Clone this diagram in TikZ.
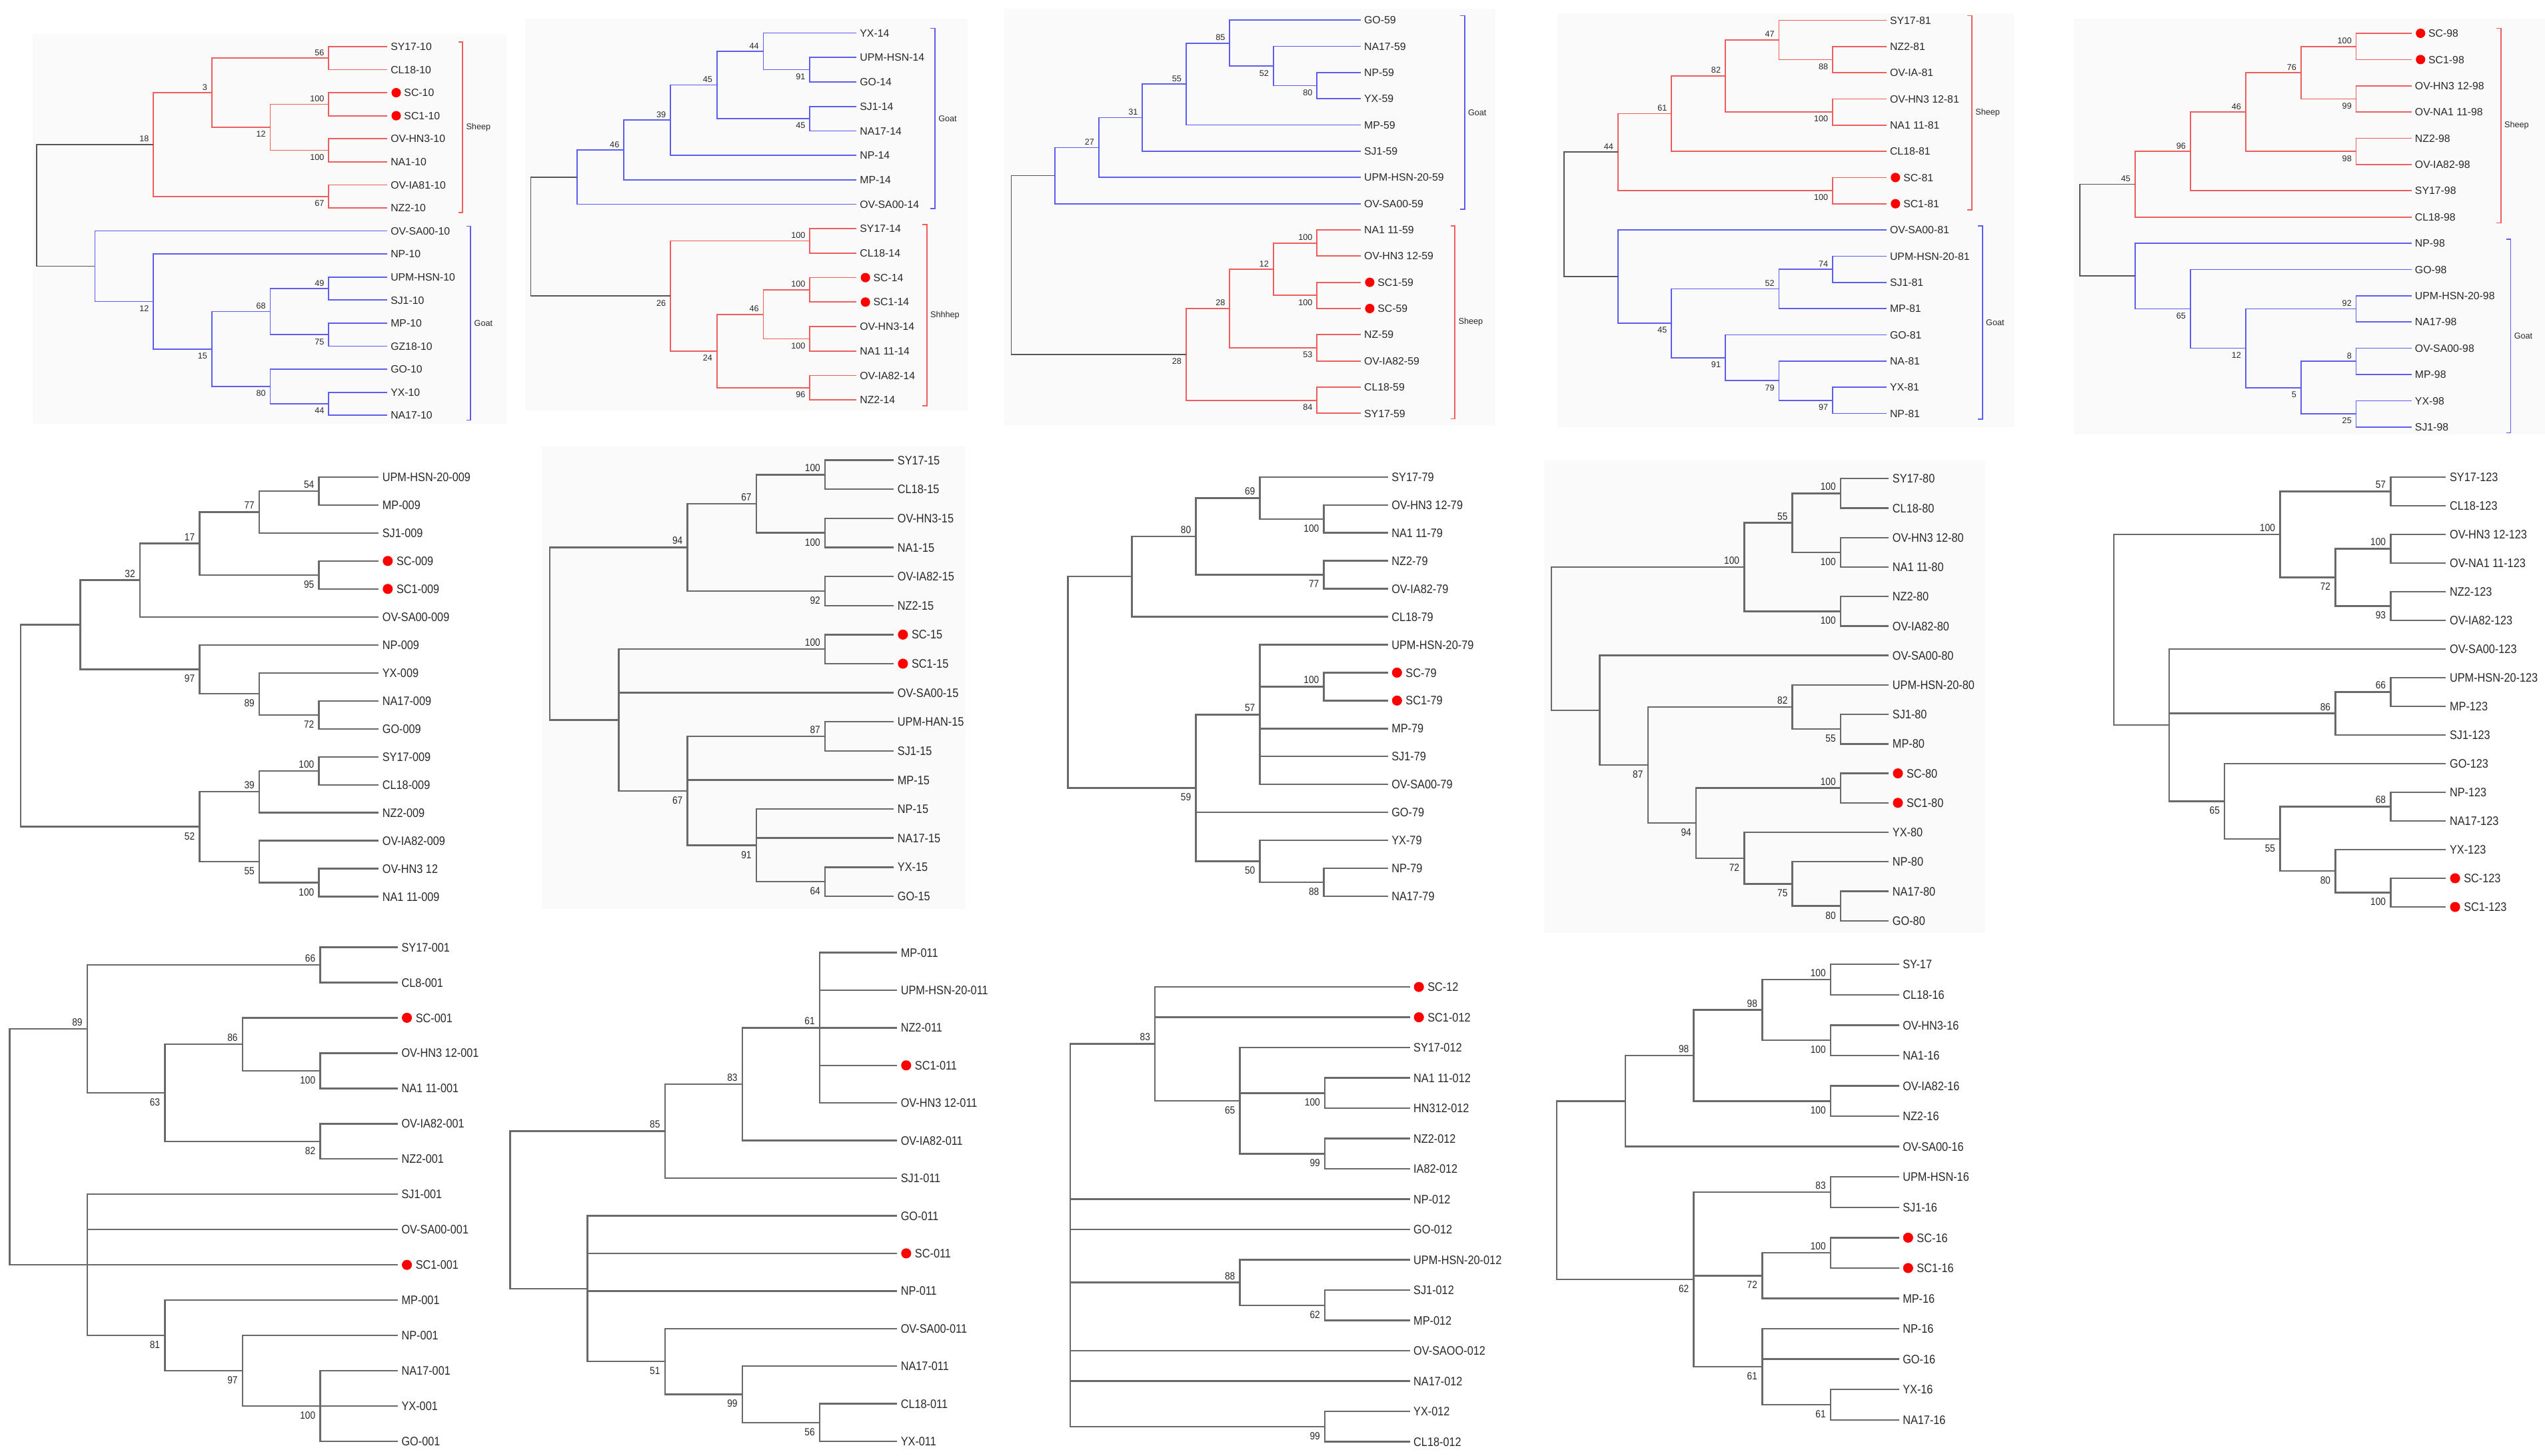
\documentclass[tikz,border=0pt]{standalone}
\usepackage{fontspec}
\setmainfont{Liberation Sans}
\newfontfamily\cnd[FakeStretch=0.88]{Liberation Sans}
\definecolor{cred}{RGB}{238,92,92}
\definecolor{cblue}{RGB}{92,92,238}
\definecolor{croot}{RGB}{85,85,85}
\definecolor{cgray}{RGB}{105,105,105}
\definecolor{ctext}{RGB}{40,40,40}
\tikzset{
  redl/.style={draw=cred, line width=0.7pt},
  bluel/.style={draw=cblue, line width=0.7pt},
  rootl/.style={draw=croot, line width=0.7pt},
  grayl/.style={draw=cgray, line width=1pt},
  cur/.style={grayl},
  sdot/.style={circle, fill=red, draw=none, inner sep=0pt, minimum size=5.8pt},
  clt/.style={font=\fontsize{5.2}{6}\selectfont, inner sep=0pt, anchor=west, text=ctext},
  panel/.style={fill=black!2, draw=none},
  lt/.style={font=\fontsize{6.5}{7}\selectfont, inner sep=0pt, anchor=base west, text=ctext},
  bs/.style={font=\fontsize{5.2}{6}\selectfont, inner sep=0pt, text=ctext}
}
\newcommand\SetTree[4]{\def\qLx{#1}\def\qHx{#2}\def\qYo{#3}\def\qDy{#4}}
\newcommand\Leaf[3]{%
  \pgfmathsetmacro\qTy{\qYo+(#2-1)*\qDy}%
  \expandafter\xdef\csname Y@#1\endcsname{\qTy}%
  \coordinate (#1) at (\qLx,\qTy);
  \node[lt] (#1t) at (\qLx+\qLgap,\qTy+\qLbase) {#3};}
\newcommand\LeafD[3]{%
  \pgfmathsetmacro\qTy{\qYo+(#2-1)*\qDy}%
  \expandafter\xdef\csname Y@#1\endcsname{\qTy}%
  \coordinate (#1) at (\qLx,\qTy);
  \node[sdot] (#1d) at (\qLx+\qLdot,\qTy) {};
  \node[lt] (#1t) at (\qLx+\qLdtx,\qTy+\qLbase) {#3};}
\newcommand\Inode[3]{%
  \gdef\qFc{}%
  \foreach \qCh in {#3}{\ifx\qFc\empty\xdef\qFc{\qCh}\fi\xdef\qLc{\qCh}}%
  \pgfmathsetmacro\qNy{(\csname Y@\qFc\endcsname+\csname Y@\qLc\endcsname)/2}%
  \expandafter\xdef\csname Y@#1\endcsname{\qNy}%
  \pgfmathsetmacro\qNx{\qLx-#2*\qHx}%
  \coordinate (#1) at (\qNx,\qNy);
  \foreach \qCh in {#3}{\draw[cur] (#1) |- (\qCh);}}
\newcommand\InodeA[4]{\Inode{#1}{#2}{#3}\node[bs,anchor=south east] (#1b) at (\qNx-\qBx,\qNy-\qBa) {#4};}
\newcommand\InodeB[4]{\Inode{#1}{#2}{#3}\node[bs,anchor=north east] (#1b) at (\qNx-\qBx,\qNy+\qBb) {#4};}
\newcommand\Clade[6]{%
  \draw[#2] (#3-2.7,#4) -- (#3,#4) -- (#3,#5) -- (#3-2.7,#5);
  \node[clt] (#1) at (#3+2,{(#4+#5)/2}) {#6};}
\begin{document}
\begin{tikzpicture}[x=1pt,y=-1pt]
\fill[white] (0,0) rectangle (1568,897);
\useasboundingbox (0,0) rectangle (1568,897);
% panels
\fill[panel] (20,20.8) rectangle (312,261);
\fill[panel] (323.4,11.6) rectangle (596.3,253);
\fill[panel] (618.8,5.4) rectangle (921.2,261.8);
\fill[panel] (959.6,8.3) rectangle (1241.3,263);
\fill[panel] (1277.6,11.6) rectangle (1568,267.7);
\fill[panel] (334,275) rectangle (595,560);
\fill[panel] (951.5,283.6) rectangle (1223,575);
% ===== Row 1 settings
\def\qLgap{2}\def\qLdot{5.6}\def\qLdtx{10.3}\def\qLbase{2.33}\def\qBx{2.6}\def\qBa{1.4}\def\qBb{2.3}
% ---- Tree A
\SetTree{238.5}{36.0}{28.7}{14.2}
\Leaf{A1}{1}{SY17-10}\Leaf{A2}{2}{CL18-10}\LeafD{A3}{3}{SC-10}\LeafD{A4}{4}{SC1-10}
\Leaf{A5}{5}{OV-HN3-10}\Leaf{A6}{6}{NA1-10}\Leaf{A7}{7}{OV-IA81-10}\Leaf{A8}{8}{NZ2-10}
\Leaf{A9}{9}{OV-SA00-10}\Leaf{A10}{10}{NP-10}\Leaf{A11}{11}{UPM-HSN-10}\Leaf{A12}{12}{SJ1-10}
\Leaf{A13}{13}{MP-10}\Leaf{A14}{14}{GZ18-10}\Leaf{A15}{15}{GO-10}\Leaf{A16}{16}{YX-10}\Leaf{A17}{17}{NA17-10}
\tikzset{cur/.style={redl}}
\InodeA{Aa}{1}{A1,A2}{56}
\InodeA{Ab}{1}{A3,A4}{100}
\InodeB{Ac}{1}{A5,A6}{100}
\InodeB{Ad}{2}{Ab,Ac}{12}
\InodeA{Ae}{3}{Aa,Ad}{3}
\InodeB{Af}{1}{A7,A8}{67}
\InodeA{Ag}{4}{Ae,Af}{18}
\tikzset{cur/.style={bluel}}
\InodeA{Ah}{1}{A11,A12}{49}
\InodeB{Ai}{1}{A13,A14}{75}
\InodeA{Aj}{2}{Ah,Ai}{68}
\InodeB{Ak}{1}{A16,A17}{44}
\InodeB{Al}{2}{A15,Ak}{80}
\InodeB{Am}{3}{Aj,Al}{15}
\InodeB{An}{4}{A10,Am}{12}
\Inode{Ao}{5}{A9,An}
\tikzset{cur/.style={rootl}}
\Inode{Ar}{6}{Ag,Ao}
\Clade{Ash}{redl}{285.0}{25.9}{131.0}{Sheep}
\Clade{Ago}{bluel}{290.0}{139.4}{258.9}{Goat}
% ---- Tree B
\SetTree{527.6}{28.65}{20.35}{15.07}
\Leaf{B1}{1}{YX-14}\Leaf{B2}{2}{UPM-HSN-14}\Leaf{B3}{3}{GO-14}\Leaf{B4}{4}{SJ1-14}
\Leaf{B5}{5}{NA17-14}\Leaf{B6}{6}{NP-14}\Leaf{B7}{7}{MP-14}\Leaf{B8}{8}{OV-SA00-14}
\Leaf{B9}{9}{SY17-14}\Leaf{B10}{10}{CL18-14}\LeafD{B11}{11}{SC-14}\LeafD{B12}{12}{SC1-14}
\Leaf{B13}{13}{OV-HN3-14}\Leaf{B14}{14}{NA1 11-14}\Leaf{B15}{15}{OV-IA82-14}\Leaf{B16}{16}{NZ2-14}
\tikzset{cur/.style={bluel}}
\InodeB{Ba}{1}{B2,B3}{91}
\InodeA{Bb}{2}{B1,Ba}{44}
\InodeB{Bc}{1}{B4,B5}{45}
\InodeA{Bd}{3}{Bb,Bc}{45}
\InodeA{Be}{4}{Bd,B6}{39}
\InodeA{Bf}{5}{Be,B7}{46}
\Inode{Bg}{6}{Bf,B8}
\tikzset{cur/.style={redl}}
\InodeA{Bh}{1}{B9,B10}{100}
\InodeA{Bi}{1}{B11,B12}{100}
\InodeB{Bj}{1}{B13,B14}{100}
\InodeA{Bk}{2}{Bi,Bj}{46}
\InodeB{Bl}{1}{B15,B16}{96}
\InodeB{Bm}{3}{Bk,Bl}{24}
\InodeB{Bn}{4}{Bh,Bm}{26}
\tikzset{cur/.style={rootl}}
\Inode{Br}{7}{Bg,Bn}
\Clade{Bgo}{bluel}{576.0}{17.5}{128.6}{Goat}
\Clade{Bsh}{redl}{571.0}{138.5}{250.0}{Shhhep}
% ---- Tree C
\SetTree{838.3}{26.9}{12.44}{16.15}
\Leaf{C1}{1}{GO-59}\Leaf{C2}{2}{NA17-59}\Leaf{C3}{3}{NP-59}\Leaf{C4}{4}{YX-59}
\Leaf{C5}{5}{MP-59}\Leaf{C6}{6}{SJ1-59}\Leaf{C7}{7}{UPM-HSN-20-59}\Leaf{C8}{8}{OV-SA00-59}
\Leaf{C9}{9}{NA1 11-59}\Leaf{C10}{10}{OV-HN3 12-59}\LeafD{C11}{11}{SC1-59}\LeafD{C12}{12}{SC-59}
\Leaf{C13}{13}{NZ-59}\Leaf{C14}{14}{OV-IA82-59}\Leaf{C15}{15}{CL18-59}\Leaf{C16}{16}{SY17-59}
\tikzset{cur/.style={bluel}}
\InodeB{Ca}{1}{C3,C4}{80}
\InodeB{Cb}{2}{C2,Ca}{52}
\InodeA{Cc}{3}{C1,Cb}{85}
\InodeA{Cd}{4}{Cc,C5}{55}
\InodeA{Ce}{5}{Cd,C6}{31}
\InodeA{Cf}{6}{Ce,C7}{27}
\Inode{Cg}{7}{Cf,C8}
\tikzset{cur/.style={redl}}
\InodeA{Ch}{1}{C9,C10}{100}
\InodeB{Ci}{1}{C11,C12}{100}
\InodeA{Cj}{2}{Ch,Ci}{12}
\InodeB{Ck}{1}{C13,C14}{53}
\InodeA{Cl}{3}{Cj,Ck}{28}
\InodeB{Cm}{1}{C15,C16}{84}
\InodeB{Cn}{4}{Cl,Cm}{28}
\tikzset{cur/.style={rootl}}
\Inode{Cr}{8}{Cg,Cn}
\Clade{Cgo}{bluel}{902.3}{9.6}{128.9}{Goat}
\Clade{Csh}{redl}{896.4}{139.1}{258.1}{Sheep}
% ---- Tree D
\SetTree{1162.2}{33.09}{12.47}{16.15}
\Leaf{D1}{1}{SY17-81}\Leaf{D2}{2}{NZ2-81}\Leaf{D3}{3}{OV-IA-81}\Leaf{D4}{4}{OV-HN3 12-81}
\Leaf{D5}{5}{NA1 11-81}\Leaf{D6}{6}{CL18-81}\LeafD{D7}{7}{SC-81}\LeafD{D8}{8}{SC1-81}
\Leaf{D9}{9}{OV-SA00-81}\Leaf{D10}{10}{UPM-HSN-20-81}\Leaf{D11}{11}{SJ1-81}\Leaf{D12}{12}{MP-81}
\Leaf{D13}{13}{GO-81}\Leaf{D14}{14}{NA-81}\Leaf{D15}{15}{YX-81}\Leaf{D16}{16}{NP-81}
\tikzset{cur/.style={redl}}
\InodeB{Da}{1}{D2,D3}{88}
\InodeA{Db}{2}{D1,Da}{47}
\InodeB{Dc}{1}{D4,D5}{100}
\InodeA{Dd}{3}{Db,Dc}{82}
\InodeA{De}{4}{Dd,D6}{61}
\InodeB{Df}{1}{D7,D8}{100}
\InodeA{Dg}{5}{De,Df}{44}
\tikzset{cur/.style={bluel}}
\InodeA{Dh}{1}{D10,D11}{74}
\InodeA{Di}{2}{Dh,D12}{52}
\InodeB{Dj}{1}{D15,D16}{97}
\InodeB{Dk}{2}{D14,Dj}{79}
\InodeB{Dl}{3}{D13,Dk}{91}
\InodeB{Dm}{4}{Di,Dl}{45}
\Inode{Dn}{5}{D9,Dm}
\tikzset{cur/.style={rootl}}
\Inode{Dr}{6}{Dg,Dn}
\Clade{Dsh}{redl}{1214.9}{9.6}{129.3}{Sheep}
\Clade{Dgo}{bluel}{1221.4}{139.3}{258.3}{Goat}
% ---- Tree E
\SetTree{1485.7}{34.06}{20.52}{16.17}
\LeafD{E1}{1}{SC-98}\LeafD{E2}{2}{SC1-98}\Leaf{E3}{3}{OV-HN3 12-98}\Leaf{E4}{4}{OV-NA1 11-98}
\Leaf{E5}{5}{NZ2-98}\Leaf{E6}{6}{OV-IA82-98}\Leaf{E7}{7}{SY17-98}\Leaf{E8}{8}{CL18-98}
\Leaf{E9}{9}{NP-98}\Leaf{E10}{10}{GO-98}\Leaf{E11}{11}{UPM-HSN-20-98}\Leaf{E12}{12}{NA17-98}
\Leaf{E13}{13}{OV-SA00-98}\Leaf{E14}{14}{MP-98}\Leaf{E15}{15}{YX-98}\Leaf{E16}{16}{SJ1-98}
\tikzset{cur/.style={redl}}
\InodeA{Ea}{1}{E1,E2}{100}
\InodeB{Eb}{1}{E3,E4}{99}
\InodeA{Ec}{2}{Ea,Eb}{76}
\InodeB{Ed}{1}{E5,E6}{98}
\InodeA{Ee}{3}{Ec,Ed}{46}
\InodeA{Ef}{4}{Ee,E7}{96}
\InodeA{Eg}{5}{Ef,E8}{45}
\tikzset{cur/.style={bluel}}
\InodeA{Eh}{1}{E11,E12}{92}
\InodeA{Ei}{1}{E13,E14}{8}
\InodeB{Ej}{1}{E15,E16}{25}
\InodeB{Ek}{2}{Ei,Ej}{5}
\InodeB{El}{3}{Eh,Ek}{12}
\InodeB{Em}{4}{E10,El}{65}
\Inode{En}{5}{E9,Em}
\tikzset{cur/.style={rootl}}
\Inode{Er}{6}{Eg,En}
\Clade{Esh}{redl}{1540.8}{17.5}{137.3}{Sheep}
\Clade{Ego}{bluel}{1546.8}{147.4}{266.7}{Goat}
% ===== Rows 2-3 settings
\tikzset{cur/.style={grayl},
  lt/.style={font=\cnd\fontsize{7.6}{8}\selectfont, inner sep=0pt, anchor=base west, text=ctext},
  bs/.style={font=\cnd\fontsize{6.4}{7}\selectfont, inner sep=0pt, text=ctext},
  sdot/.style={circle, fill=red, draw=none, inner sep=0pt, minimum size=6.2pt}}
\def\qLgap{2.1}\def\qLdot{5.6}\def\qLdtx{10.8}\def\qLbase{2.72}\def\qBx{2.8}\def\qBa{1.6}\def\qBb{3.3}
% ---- Tree F
\SetTree{233.3}{36.77}{293.9}{17.24}
\Leaf{F1}{1}{UPM-HSN-20-009}\Leaf{F2}{2}{MP-009}\Leaf{F3}{3}{SJ1-009}\LeafD{F4}{4}{SC-009}
\LeafD{F5}{5}{SC1-009}\Leaf{F6}{6}{OV-SA00-009}\Leaf{F7}{7}{NP-009}\Leaf{F8}{8}{YX-009}
\Leaf{F9}{9}{NA17-009}\Leaf{F10}{10}{GO-009}\Leaf{F11}{11}{SY17-009}\Leaf{F12}{12}{CL18-009}
\Leaf{F13}{13}{NZ2-009}\Leaf{F14}{14}{OV-IA82-009}\Leaf{F15}{15}{OV-HN3 12}\Leaf{F16}{16}{NA1 11-009}
\InodeA{Fa}{1}{F1,F2}{54}
\InodeA{Fb}{2}{Fa,F3}{77}
\InodeB{Fc}{1}{F4,F5}{95}
\InodeA{Fd}{3}{Fb,Fc}{17}
\InodeA{Fe}{4}{Fd,F6}{32}
\InodeB{Ff}{1}{F9,F10}{72}
\InodeB{Fg}{2}{F8,Ff}{89}
\InodeB{Fh}{3}{F7,Fg}{97}
\Inode{Fi}{5}{Fe,Fh}
\InodeA{Fj}{1}{F11,F12}{100}
\InodeA{Fk}{2}{Fj,F13}{39}
\InodeB{Fl}{1}{F15,F16}{100}
\InodeB{Fm}{2}{F14,Fl}{55}
\InodeB{Fn}{3}{Fk,Fm}{52}
\Inode{Fr}{6}{Fi,Fn}
% ---- Tree G
\SetTree{550.7}{42.38}{283.55}{17.91}
\Leaf{G1}{1}{SY17-15}\Leaf{G2}{2}{CL18-15}\Leaf{G3}{3}{OV-HN3-15}\Leaf{G4}{4}{NA1-15}
\Leaf{G5}{5}{OV-IA82-15}\Leaf{G6}{6}{NZ2-15}\LeafD{G7}{7}{SC-15}\LeafD{G8}{8}{SC1-15}
\Leaf{G9}{9}{OV-SA00-15}\Leaf{G10}{10}{UPM-HAN-15}\Leaf{G11}{11}{SJ1-15}\Leaf{G12}{12}{MP-15}
\Leaf{G13}{13}{NP-15}\Leaf{G14}{14}{NA17-15}\Leaf{G15}{15}{YX-15}\Leaf{G16}{16}{GO-15}
\InodeA{Ga}{1}{G1,G2}{100}
\InodeB{Gb}{1}{G3,G4}{100}
\InodeA{Gc}{2}{Ga,Gb}{67}
\InodeB{Gd}{1}{G5,G6}{92}
\InodeA{Ge}{3}{Gc,Gd}{94}
\InodeA{Gf}{1}{G7,G8}{100}
\InodeA{Gg}{1}{G10,G11}{87}
\InodeB{Gh}{1}{G15,G16}{64}
\InodeB{Gi}{2}{G13,G14,Gh}{91}
\InodeB{Gj}{3}{Gg,G12,Gi}{67}
\Inode{Gk}{4}{Gf,G9,Gj}
\Inode{Gr}{5}{Ge,Gk}
% ---- Tree H
\SetTree{855.1}{39.44}{293.9}{17.22}
\Leaf{H1}{1}{SY17-79}\Leaf{H2}{2}{OV-HN3 12-79}\Leaf{H3}{3}{NA1 11-79}\Leaf{H4}{4}{NZ2-79}
\Leaf{H5}{5}{OV-IA82-79}\Leaf{H6}{6}{CL18-79}\Leaf{H7}{7}{UPM-HSN-20-79}\LeafD{H8}{8}{SC-79}
\LeafD{H9}{9}{SC1-79}\Leaf{H10}{10}{MP-79}\Leaf{H11}{11}{SJ1-79}\Leaf{H12}{12}{OV-SA00-79}
\Leaf{H13}{13}{GO-79}\Leaf{H14}{14}{YX-79}\Leaf{H15}{15}{NP-79}\Leaf{H16}{16}{NA17-79}
\InodeB{Ha}{1}{H2,H3}{100}
\InodeA{Hb}{2}{H1,Ha}{69}
\InodeB{Hc}{1}{H4,H5}{77}
\InodeA{Hd}{3}{Hb,Hc}{80}
\Inode{He}{4}{Hd,H6}
\InodeA{Hf}{1}{H8,H9}{100}
\InodeA{Hg}{2}{H7,Hf,H10,H11,H12}{57}
\InodeB{Hh}{1}{H15,H16}{88}
\InodeB{Hi}{2}{H14,Hh}{50}
\InodeB{Hj}{3}{Hg,H13,Hi}{59}
\Inode{Hr}{5}{He,Hj}
% ---- Tree I
\SetTree{1163.7}{29.69}{294.9}{18.16}
\Leaf{I1}{1}{SY17-80}\Leaf{I2}{2}{CL18-80}\Leaf{I3}{3}{OV-HN3 12-80}\Leaf{I4}{4}{NA1 11-80}
\Leaf{I5}{5}{NZ2-80}\Leaf{I6}{6}{OV-IA82-80}\Leaf{I7}{7}{OV-SA00-80}\Leaf{I8}{8}{UPM-HSN-20-80}
\Leaf{I9}{9}{SJ1-80}\Leaf{I10}{10}{MP-80}\LeafD{I11}{11}{SC-80}\LeafD{I12}{12}{SC1-80}
\Leaf{I13}{13}{YX-80}\Leaf{I14}{14}{NP-80}\Leaf{I15}{15}{NA17-80}\Leaf{I16}{16}{GO-80}
\InodeA{Ia}{1}{I1,I2}{100}
\InodeB{Ib}{1}{I3,I4}{100}
\InodeA{Ic}{2}{Ia,Ib}{55}
\InodeB{Id}{1}{I5,I6}{100}
\InodeA{Ie}{3}{Ic,Id}{100}
\InodeB{If}{1}{I9,I10}{55}
\InodeA{Ig}{2}{I8,If}{82}
\InodeA{Ih}{1}{I11,I12}{100}
\InodeB{Ii}{1}{I15,I16}{80}
\InodeB{Ij}{2}{I14,Ii}{75}
\InodeB{Ik}{3}{I13,Ij}{72}
\InodeB{Il}{4}{Ih,Ik}{94}
\InodeB{Im}{5}{Ig,Il}{87}
\Inode{In}{6}{I7,Im}
\Inode{Ir}{7}{Ie,In}
% ---- Tree J
\SetTree{1507.0}{34.1}{293.9}{17.66}
\Leaf{J1}{1}{SY17-123}\Leaf{J2}{2}{CL18-123}\Leaf{J3}{3}{OV-HN3 12-123}\Leaf{J4}{4}{OV-NA1 11-123}
\Leaf{J5}{5}{NZ2-123}\Leaf{J6}{6}{OV-IA82-123}\Leaf{J7}{7}{OV-SA00-123}\Leaf{J8}{8}{UPM-HSN-20-123}
\Leaf{J9}{9}{MP-123}\Leaf{J10}{10}{SJ1-123}\Leaf{J11}{11}{GO-123}\Leaf{J12}{12}{NP-123}
\Leaf{J13}{13}{NA17-123}\Leaf{J14}{14}{YX-123}\LeafD{J15}{15}{SC-123}\LeafD{J16}{16}{SC1-123}
\InodeA{Ja}{1}{J1,J2}{57}
\InodeA{Jb}{1}{J3,J4}{100}
\InodeB{Jc}{1}{J5,J6}{93}
\InodeB{Jd}{2}{Jb,Jc}{72}
\InodeA{Je}{3}{Ja,Jd}{100}
\InodeA{Jf}{1}{J8,J9}{66}
\InodeA{Jg}{2}{Jf,J10}{86}
\InodeA{Jh}{1}{J12,J13}{68}
\InodeB{Ji}{1}{J15,J16}{100}
\InodeB{Jj}{2}{J14,Ji}{80}
\InodeB{Jk}{3}{Jh,Jj}{55}
\InodeB{Jl}{4}{J11,Jk}{65}
\Inode{Jm}{5}{J7,Jg,Jl}
\Inode{Jr}{6}{Je,Jm}
% ---- Tree K
\SetTree{245.1}{47.84}{583.6}{21.75}
\Leaf{K1}{1}{SY17-001}\Leaf{K2}{2}{CL8-001}\LeafD{K3}{3}{SC-001}\Leaf{K4}{4}{OV-HN3 12-001}
\Leaf{K5}{5}{NA1 11-001}\Leaf{K6}{6}{OV-IA82-001}\Leaf{K7}{7}{NZ2-001}\Leaf{K8}{8}{SJ1-001}
\Leaf{K9}{9}{OV-SA00-001}\LeafD{K10}{10}{SC1-001}\Leaf{K11}{11}{MP-001}\Leaf{K12}{12}{NP-001}
\Leaf{K13}{13}{NA17-001}\Leaf{K14}{14}{YX-001}\Leaf{K15}{15}{GO-001}
\InodeA{Ka}{1}{K1,K2}{66}
\InodeB{Kb}{1}{K4,K5}{100}
\InodeA{Kc}{2}{K3,Kb}{86}
\InodeB{Kd}{1}{K6,K7}{82}
\InodeB{Ke}{3}{Kc,Kd}{63}
\InodeA{Kf}{4}{Ka,Ke}{89}
\InodeB{Kj}{1}{K13,K14,K15}{100}
\InodeB{Ki}{2}{K12,Kj}{97}
\InodeB{Kh}{3}{K11,Ki}{81}
\Inode{Kg}{4}{K8,K9,K10,Kh}
\Inode{Kr}{5}{Kf,Kg}
% ---- Tree L
\SetTree{552.7}{47.68}{586.9}{23.17}
\Leaf{L1}{1}{MP-011}\Leaf{L2}{2}{UPM-HSN-20-011}\Leaf{L3}{3}{NZ2-011}\LeafD{L4}{4}{SC1-011}
\Leaf{L5}{5}{OV-HN3 12-011}\Leaf{L6}{6}{OV-IA82-011}\Leaf{L7}{7}{SJ1-011}\Leaf{L8}{8}{GO-011}
\LeafD{L9}{9}{SC-011}\Leaf{L10}{10}{NP-011}\Leaf{L11}{11}{OV-SA00-011}\Leaf{L12}{12}{NA17-011}
\Leaf{L13}{13}{CL18-011}\Leaf{L14}{14}{YX-011}
\InodeA{La}{1}{L1,L2,L3,L4,L5}{61}
\InodeA{Lb}{2}{La,L6}{83}
\InodeA{Lc}{3}{Lb,L7}{85}
\InodeB{Ld}{1}{L13,L14}{56}
\InodeB{Le}{2}{L12,Ld}{99}
\InodeB{Lf}{3}{L11,Le}{51}
\Inode{Lg}{4}{L8,L9,L10,Lf}
\Inode{Lr}{5}{Lc,Lg}
% ---- Tree M
\SetTree{868.6}{52.33}{608.1}{18.68}
\LeafD{M1}{1}{SC-12}\LeafD{M2}{2}{SC1-012}\Leaf{M3}{3}{SY17-012}\Leaf{M4}{4}{NA1 11-012}
\Leaf{M5}{5}{HN312-012}\Leaf{M6}{6}{NZ2-012}\Leaf{M7}{7}{IA82-012}\Leaf{M8}{8}{NP-012}
\Leaf{M9}{9}{GO-012}\Leaf{M10}{10}{UPM-HSN-20-012}\Leaf{M11}{11}{SJ1-012}\Leaf{M12}{12}{MP-012}
\Leaf{M13}{13}{OV-SAOO-012}\Leaf{M14}{14}{NA17-012}\Leaf{M15}{15}{YX-012}\Leaf{M16}{16}{CL18-012}
\InodeB{Ma}{1}{M4,M5}{100}
\InodeB{Mb}{1}{M6,M7}{99}
\InodeB{Mc}{2}{M3,Ma,Mb}{65}
\InodeA{Md}{3}{M1,M2,Mc}{83}
\InodeB{Me}{1}{M11,M12}{62}
\InodeA{Mf}{2}{M10,Me}{88}
\InodeB{Mg}{1}{M15,M16}{99}
\Inode{Mr}{4}{Md,M8,M9,Mf,M13,M14,Mg}
% ---- Tree N
\SetTree{1170.0}{42.16}{594.2}{18.71}
\Leaf{N1}{1}{SY-17}\Leaf{N2}{2}{CL18-16}\Leaf{N3}{3}{OV-HN3-16}\Leaf{N4}{4}{NA1-16}
\Leaf{N5}{5}{OV-IA82-16}\Leaf{N6}{6}{NZ2-16}\Leaf{N7}{7}{OV-SA00-16}\Leaf{N8}{8}{UPM-HSN-16}
\Leaf{N9}{9}{SJ1-16}\LeafD{N10}{10}{SC-16}\LeafD{N11}{11}{SC1-16}\Leaf{N12}{12}{MP-16}
\Leaf{N13}{13}{NP-16}\Leaf{N14}{14}{GO-16}\Leaf{N15}{15}{YX-16}\Leaf{N16}{16}{NA17-16}
\InodeA{Na}{1}{N1,N2}{100}
\InodeB{Nb}{1}{N3,N4}{100}
\InodeA{Nc}{2}{Na,Nb}{98}
\InodeB{Nd}{1}{N5,N6}{100}
\InodeA{Ne}{3}{Nc,Nd}{98}
\Inode{Nf}{4}{Ne,N7}
\InodeA{Ng}{1}{N8,N9}{83}
\InodeA{Nh}{1}{N10,N11}{100}
\InodeB{Ni}{2}{Nh,N12}{72}
\InodeB{Nj}{1}{N15,N16}{61}
\InodeB{Nk}{2}{N13,N14,Nj}{61}
\InodeB{Nl}{3}{Ng,Ni,Nk}{62}
\Inode{Nr}{5}{Nf,Nl}
\end{tikzpicture}
\end{document}
